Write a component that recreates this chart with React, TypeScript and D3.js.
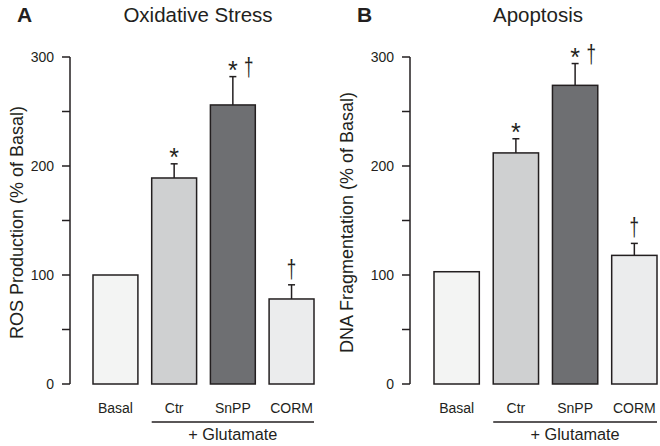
import React from "react";
import * as d3 from "d3";

const categories = ["Basal", "Ctr", "SnPP", "CORM"];
const rosValues = [100, 189, 256, 78];
const rosErrors = [0, 13, 26, 13];
const dnaValues = [103, 212, 274, 118];
const dnaErrors = [0, 13, 20, 11];
const starsA = [false, true, true, false];
const daggersA = [false, false, true, true];
const starsB = [false, true, true, false];
const daggersB = [false, false, true, true];
const majorTicks = [0, 100, 200, 300];
const minorTicks = [50, 150, 250];
const barColors = ["#f3f4f3", "#cfd0d1", "#6e6f72", "#ebeced"];

const FONT = "'Liberation Sans', Arial, sans-serif";

type PanelProps = {
  letter: string;
  title: string;
  ylabel: string;
  values: number[];
  errors: number[];
  stars: boolean[];
  daggers: boolean[];
  axisX: number;
  barLeft: number;
  barRight: number;
  letterX: number;
  titleX: number;
  ylabelX: number;
};

function Panel(p: PanelProps) {
  const y = d3.scaleLinear().domain([0, 300]).range([384, 57]);
  const x = d3
    .scaleBand<string>()
    .domain(categories)
    .range([p.barLeft, p.barRight])
    .paddingInner(0.235)
    .paddingOuter(0);
  const bw = x.bandwidth();
  const lineX1 = x("Ctr")!;
  const lineX2 = x("CORM")! + bw;
  return (
    <g fontFamily={FONT}>
      <text x={p.letterX} y={22} fontSize={21} fontWeight="bold" fill="#231f20">
        {p.letter}
      </text>
      <text x={p.titleX} y={22} fontSize={20.5} textAnchor="middle" fill="#231f20">
        {p.title}
      </text>
      <text
        transform={`translate(${p.ylabelX},${(y(0) + y(300)) / 2 + 2}) rotate(-90)`}
        fontSize={18}
        textAnchor="middle"
        dominantBaseline="central"
        fill="#231f20"
      >
        {p.ylabel}
      </text>
      <line x1={p.axisX} x2={p.axisX} y1={y(300)} y2={y(0)} stroke="#231f20" strokeWidth={1.5} />
      {majorTicks.concat(minorTicks).map((t) => (
        <line key={t} x1={p.axisX - 8} x2={p.axisX} y1={y(t)} y2={y(t)} stroke="#231f20" strokeWidth={1.5} />
      ))}
      {majorTicks.map((t) => (
        <text key={t} x={p.axisX - 16} y={y(t)} dy="0.35em" fontSize={14} textAnchor="end" fill="#231f20">
          {t}
        </text>
      ))}
      {categories.map((c, i) => {
        const cx = x(c)! + bw / 2;
        const top = y(p.values[i]);
        const errTop = y(p.values[i] + p.errors[i]);
        const dx = p.stars[i] ? cx + 16 : cx;
        const dy = p.stars[i] ? errTop - 1 : errTop - 7;
        return (
          <g key={c}>
            {p.errors[i] > 0 && (
              <g stroke="#231f20" strokeWidth={1.5}>
                <line x1={cx} x2={cx} y1={top} y2={errTop} />
                <line x1={cx - 3.5} x2={cx + 3.5} y1={errTop} y2={errTop} />
              </g>
            )}
            <rect
              x={x(c)!}
              y={top}
              width={bw}
              height={y(0) - top}
              fill={barColors[i]}
              stroke="#231f20"
              strokeWidth={1.5}
            />
            {p.stars[i] && (
              <text x={cx} y={errTop + 2} fontSize={25} textAnchor="middle" fill="#231f20">
                *
              </text>
            )}
            {p.daggers[i] && (
              <text
                transform={`translate(${dx},${dy}) scale(0.85,1.3)`}
                fontSize={20}
                textAnchor="middle"
                fill="#231f20"
              >
                †
              </text>
            )}
            <text x={cx} y={413} fontSize={14} textAnchor="middle" fill="#231f20">
              {c}
            </text>
          </g>
        );
      })}
      <line x1={lineX1} x2={lineX2} y1={422} y2={422} stroke="#231f20" strokeWidth={1.5} />
      <text x={(lineX1 + lineX2) / 2} y={440} fontSize={16.3} textAnchor="middle" fill="#231f20">
        + Glutamate
      </text>
    </g>
  );
}

export default function App() {
  return (
    <svg width={660} height={446} style={{ position: "absolute", left: 0, top: 0, background: "#fff" }}>
      <rect width={660} height={446} fill="#fff" />
      <Panel
        letter="A"
        title="Oxidative Stress"
        ylabel="ROS Production (% of Basal)"
        values={rosValues}
        errors={rosErrors}
        stars={starsA}
        daggers={daggersA}
        axisX={70}
        barLeft={93}
        barRight={314}
        letterX={17}
        titleX={198}
        ylabelX={17}
      />
      <Panel
        letter="B"
        title="Apoptosis"
        ylabel="DNA Fragmentation (% of Basal)"
        values={dnaValues}
        errors={dnaErrors}
        stars={starsB}
        daggers={daggersB}
        axisX={410}
        barLeft={434}
        barRight={657}
        letterX={357}
        titleX={538}
        ylabelX={347}
      />
    </svg>
  );
}
